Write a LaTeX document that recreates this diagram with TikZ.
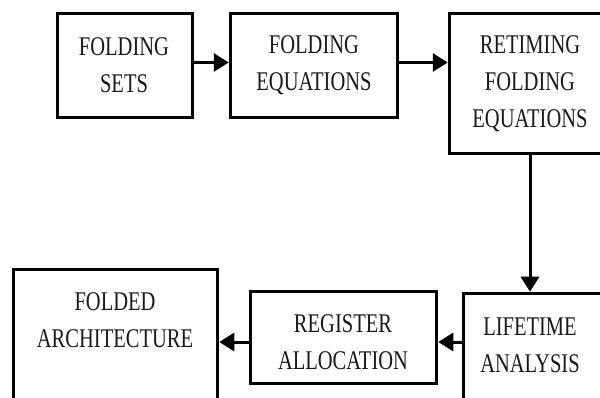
\documentclass[tikz,border=0pt]{standalone}
\usepackage{fontspec}
\setmainfont[FakeStretch=0.76]{Liberation Serif}
\usetikzlibrary{arrows.meta}
\begin{document}
\begin{tikzpicture}[x=1pt,y=-1pt,
  box/.style={draw, line width=3.5pt, inner sep=0pt},
  txt/.style={font=\fontsize{27}{37}\selectfont, align=center, inner sep=0pt, text=black!90},
  arr/.style={line width=3pt, -{Triangle[length=15pt,width=18pt]}}]
\useasboundingbox (0,0) rectangle (600,398);
\clip (0,0) rectangle (600,398);
% boxes
\node[box, minimum width=135pt, minimum height=104pt] (b1) at (125,65.5) {};
\node[box, minimum width=167pt, minimum height=104pt] (b2) at (314,65.5) {};
\node[box, minimum width=161pt, minimum height=140pt] (b3) at (530,83.5) {};
\node[box, minimum width=147pt, minimum height=125pt] (b4) at (537,356) {};
\node[box, minimum width=186pt, minimum height=92pt] (b5) at (343.5,337.5) {};
\node[box, minimum width=204pt, minimum height=149pt] (b6) at (115.5,344) {};
% texts
\node[txt] (t1) at (124,65) {FOLDING\\SETS};
\node[txt] (t2) at (314,65) {FOLDING\\EQUATIONS};
\node[txt] (t3) at (530,84) {RETIMING\\FOLDING\\EQUATIONS};
\node[txt] (t4) at (530,345) {LIFETIME\\ANALYSIS};
\node[txt] (t5) at (343,342) {REGISTER\\ALLOCATION};
\node[txt] (t6) at (115,320) {FOLDED\\ARCHITECTURE};
% connectors
\draw[arr] ([yshift=3pt]b1.east) -- ([yshift=3pt]b2.west);
\draw[arr] ([yshift=3pt]b2.east) -- ([yshift=3pt]b3.west |- b2.east);
\draw[arr] (b3.south) -- (b3.south |- b4.north);
\draw[arr] (b4.west |- t5) -- (b5.east |- t5);
\draw[arr] (b5.west |- t5) -- (b6.east |- t5);
\end{tikzpicture}
\end{document}
